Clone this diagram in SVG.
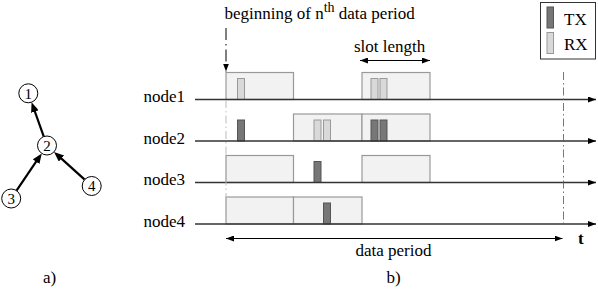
<svg xmlns="http://www.w3.org/2000/svg" width="598" height="291" viewBox="0 0 598 291">
<style>
text{font-family:"Liberation Serif","Times New Roman",serif;font-size:17px;fill:#000}
.num{font-size:15px;text-anchor:middle}
.circ{fill:#fff;stroke:#000;stroke-width:1}
.edge{stroke:#000;stroke-width:2.2;fill:none}
.axis{stroke:#333;stroke-width:1.4;fill:none}
.slot{fill:#f2f2f2;stroke:#999;stroke-width:1.2}
.tx{fill:#777;stroke:#555;stroke-width:1}
.rx{fill:#d9d9d9;stroke:#999;stroke-width:1}
.dim{stroke:#000;stroke-width:1;fill:none}
</style>
<defs>
<marker id="ah" markerUnits="userSpaceOnUse" markerWidth="10" markerHeight="8" refX="6" refY="4" orient="auto"><path d="M0,0 L10,4 L0,8 z" fill="#000"/></marker>
<marker id="sm" markerUnits="userSpaceOnUse" markerWidth="8" markerHeight="6" refX="8" refY="3" orient="auto"><path d="M0,0 L8,3 L0,6 z" fill="#000"/></marker>
<marker id="sms" markerUnits="userSpaceOnUse" markerWidth="8" markerHeight="6" refX="0" refY="3" orient="auto"><path d="M8,0 L0,3 L8,6 z" fill="#000"/></marker>
</defs>

<g id="graph-edges">
<line class="edge" x1="43.8" y1="136.6" x2="32.9" y2="106" marker-end="url(#ah)"/>
<line class="edge" x1="16.5" y1="190.6" x2="39.5" y2="156.7" marker-end="url(#ah)"/>
<line class="edge" x1="84.7" y1="179.6" x2="57" y2="154.6" marker-end="url(#ah)"/>
</g>
<g id="gnode1"><circle class="circ" cx="28.3" cy="93.3" r="9.5"/><text class="num" x="28.3" y="98.5">1</text></g>
<g id="gnode2"><circle class="circ" cx="47" cy="145.5" r="9.5"/><text class="num" x="47" y="150.7">2</text></g>
<g id="gnode3"><circle class="circ" cx="11.2" cy="198.5" r="9.5"/><text class="num" x="11.2" y="203.7">3</text></g>
<g id="gnode4"><circle class="circ" cx="91.7" cy="186" r="9.5"/><text class="num" x="91.7" y="191.2">4</text></g>
<text x="43" y="283">a)</text>

<g id="slots">
<rect class="slot" x="226" y="72.5" width="67.5" height="27"/>
<rect class="slot" x="362" y="72.5" width="68" height="27"/>
<rect class="slot" x="293.5" y="114" width="68.5" height="27"/>
<rect class="slot" x="362" y="114" width="68" height="27"/>
<rect class="slot" x="226" y="155.5" width="67.5" height="27"/>
<rect class="slot" x="362" y="155.5" width="68" height="27"/>
<rect class="slot" x="226" y="197" width="67.5" height="27"/>
<rect class="slot" x="293.5" y="197" width="68.5" height="27"/>
</g>
<g id="bursts">
<rect class="rx" x="237.5" y="78.5" width="7" height="21"/>
<rect class="rx" x="371" y="78.5" width="7" height="21"/>
<rect class="rx" x="380" y="78.5" width="7" height="21"/>
<rect class="tx" x="237.5" y="120" width="7" height="21"/>
<rect class="rx" x="314" y="120" width="7" height="21"/>
<rect class="rx" x="323.5" y="120" width="7" height="21"/>
<rect class="tx" x="371" y="120" width="7" height="21"/>
<rect class="tx" x="380" y="120" width="7" height="21"/>
<rect class="tx" x="314" y="161.5" width="7" height="21"/>
<rect class="tx" x="323.5" y="203" width="7" height="21"/>
</g>

<g id="connectors">
<line class="axis" x1="195" y1="99.5" x2="596" y2="99.5" marker-end="url(#sm)"/>
<line class="axis" x1="195" y1="141" x2="596" y2="141" marker-end="url(#sm)"/>
<line class="axis" x1="195" y1="182.5" x2="596" y2="182.5" marker-end="url(#sm)"/>
<line class="axis" x1="195" y1="224" x2="596" y2="224" marker-end="url(#sm)"/>
<line x1="226" y1="28" x2="226" y2="71.5" stroke="#000" stroke-width="1" stroke-dasharray="12,4,1.5,4" marker-end="url(#sm)"/>
<line x1="226" y1="100" x2="226" y2="223.5" stroke="#bbb" stroke-width="1" stroke-dasharray="8,3,1.5,3"/>
<line x1="563.5" y1="72" x2="563.5" y2="223.5" stroke="#555" stroke-width="0.8" stroke-dasharray="8,3,1.5,3"/>
<line class="dim" x1="360" y1="60.5" x2="430" y2="60.5" marker-start="url(#sms)" marker-end="url(#sm)"/>
<line class="dim" x1="226" y1="238.5" x2="562.5" y2="238.5" marker-start="url(#sms)" marker-end="url(#sm)"/>
</g>

<g id="labels">
<text x="143.5" y="102">node1</text>
<text x="143.5" y="143.5">node2</text>
<text x="143.5" y="185">node3</text>
<text x="143.5" y="226.5">node4</text>
<text x="224.5" y="18.5">beginning of n<tspan font-size="14" dy="-7">th</tspan><tspan dy="7"> data period</tspan></text>
<text x="354" y="51.5">slot length</text>
<text x="355.5" y="256">data period</text>
<text x="578" y="243.5" font-weight="bold">t</text>
<text x="386.5" y="283">b)</text>
</g>

<g id="legend">
<rect x="540.5" y="2.5" width="55" height="56.5" fill="#fff" stroke="#333" stroke-width="1"/>
<rect class="tx" x="547" y="7" width="6.5" height="21"/>
<rect class="rx" x="547" y="32.5" width="6.5" height="21"/>
<text x="564" y="25">TX</text>
<text x="564" y="50">RX</text>
</g>
</svg>
